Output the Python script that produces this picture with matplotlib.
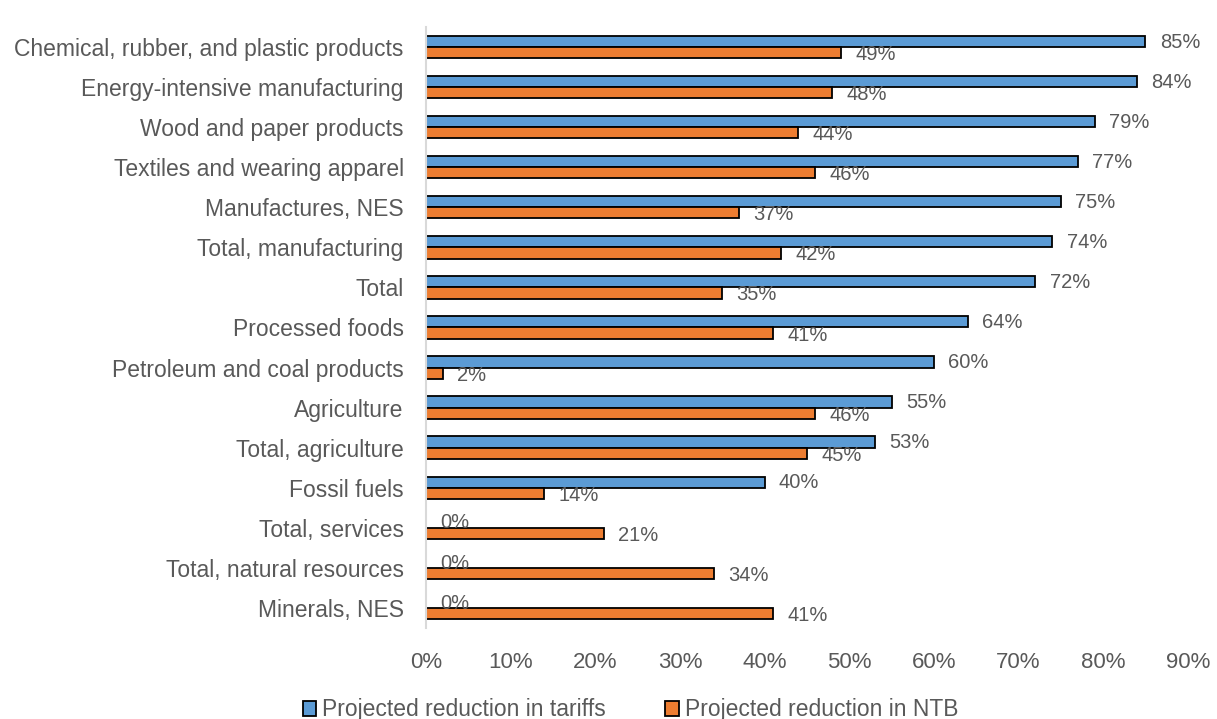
import numpy as np
import matplotlib.pyplot as plt
from matplotlib.patches import Patch

categories = [
    "Chemical, rubber, and plastic products",
    "Energy-intensive manufacturing",
    "Wood and paper products",
    "Textiles and wearing apparel",
    "Manufactures, NES",
    "Total, manufacturing",
    "Total",
    "Processed foods",
    "Petroleum and coal products",
    "Agriculture",
    "Total, agriculture",
    "Fossil fuels",
    "Total, services",
    "Total, natural resources",
    "Minerals, NES",
]
tariffs = [85, 84, 79, 77, 75, 74, 72, 64, 60, 55, 53, 40, 0, 0, 0]
ntb = [49, 48, 44, 46, 37, 42, 35, 41, 2, 46, 45, 14, 21, 34, 41]
xticks = [0, 10, 20, 30, 40, 50, 60, 70, 80, 90]

blue = "#5B9BD5"
orange = "#ED7D31"
grey = "#595959"
plt.rcParams['font.family'] = ['Liberation Sans', 'DejaVu Sans']

fig = plt.figure(figsize=(12.17, 7.19), dpi=100)
ax = fig.add_axes([0.350, 0.1266, 0.626, 0.836])

y = np.arange(len(categories))
h = 0.28
ax.barh(y - h / 2, tariffs, height=h, color=blue, edgecolor="black", linewidth=1.3)
ax.barh(y + h / 2, ntb, height=h, color=orange, edgecolor="black", linewidth=1.3)

for yi, t, n in zip(y, tariffs, ntb):
    ax.text(t + 1.7, yi - h / 2 + 0.02, f"{t}%", va="center", ha="left", fontsize=14.5, color=grey)
    ax.text(n + 1.7, yi + h / 2 + 0.05, f"{n}%", va="center", ha="left", fontsize=14.5, color=grey)

ax.set_ylim(len(categories) - 0.5, -0.5)
ax.set_xlim(0, 90)
ax.set_yticks(y)
ax.set_yticklabels(categories, fontsize=16.5, color=grey)
ax.set_xticks(xticks)
ax.set_xticklabels([f"{v}%" for v in xticks], fontsize=16, color=grey)
ax.tick_params(length=0)
ax.tick_params(axis="y", pad=16)
ax.tick_params(axis="x", pad=17)
for side in ["top", "right", "bottom"]:
    ax.spines[side].set_visible(False)
ax.spines["left"].set_color("#D9D9D9")
ax.spines["left"].set_linewidth(1.5)

handles = [Patch(facecolor=blue, edgecolor="black", linewidth=1.3),
           Patch(facecolor=orange, edgecolor="black", linewidth=1.3)]
fig.legend(handles, ["Projected reduction in tariffs", "Projected reduction in NTB"],
           loc="lower center", bbox_to_anchor=(0.518, -0.032), ncol=2, frameon=False,
           fontsize=16.5, labelcolor=grey, handlelength=0.6, handleheight=0.6,
           handletextpad=0.25, columnspacing=2.6)

fig.savefig("out.png", dpi=100)
